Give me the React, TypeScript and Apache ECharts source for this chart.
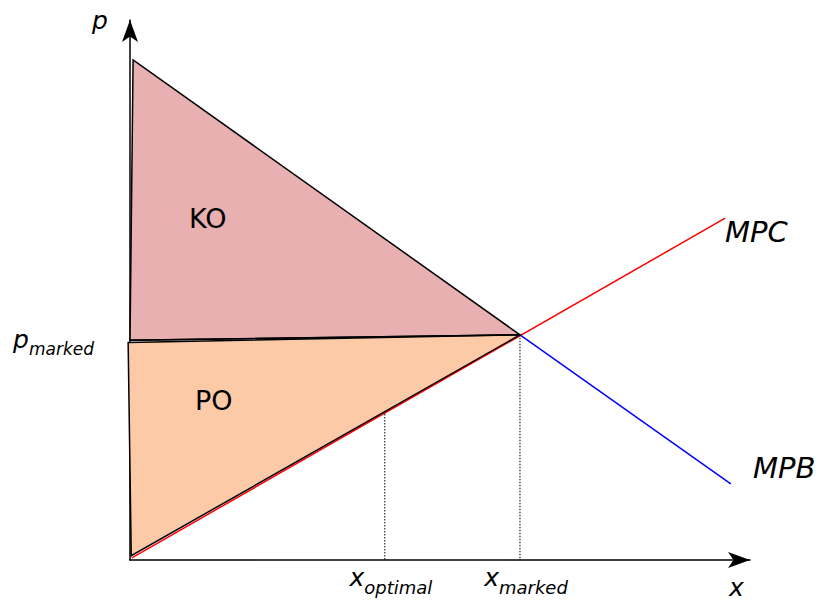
import React, { useEffect, useRef } from "react";
import * as echarts from "echarts";

// Surplus polygons (data units)
const koX = [0.05, 0, 6.29];
const koY = [9.26, 4.07, 4.17];
const poX = [-0.03, 6.29, 0.02];
const poY = [4.03, 4.17, 0.08];
// Curves
const mpcX = [0.03, 9.6];
const mpcY = [0.04, 6.33];
const mpbX = [6.29, 9.69];
const mpbY = [4.17, 1.41];
// Reference levels
const xOptimal = 4.11;
const xOptimalTop = 2.76;
const xMarked = 6.29;
const pMarked = 4.03;
const xTickValues = [xOptimal, xMarked];
const xTickNames = ["optimal", "marked"];
const yTickValues = [pMarked];
const yTickNames = ["marked"];

const FONT = "DejaVu Sans";

function polygonSeries(xs: number[], ys: number[], fill: string) {
  return {
    type: "custom",
    coordinateSystem: "cartesian2d",
    clip: false,
    silent: true,
    z: 3,
    data: [[xs[0], ys[0]]],
    renderItem: (_params: any, api: any) => {
      const pts = xs.map((x, i) => api.coord([x, ys[i]]));
      return {
        type: "polygon",
        shape: { points: pts },
        style: { fill, stroke: "#000", lineWidth: 1.5 },
      };
    },
  };
}

function lineSeries(xs: number[], ys: number[], color: string, dotted = false, width = 1.5, z = 2) {
  return {
    type: "line",
    clip: false,
    silent: true,
    symbol: "none",
    z,
    data: xs.map((x, i) => [x, ys[i]]),
    lineStyle: { color, width, type: dotted ? [1.5, 1.5] : "solid" },
  };
}

function nearestIndex(vals: number[], v: number) {
  let best = 0;
  vals.forEach((x, i) => {
    if (Math.abs(x - v) < Math.abs(vals[best] - v)) best = i;
  });
  return best;
}

export default function App() {
  const ref = useRef<HTMLDivElement>(null);
  useEffect(() => {
    if (!ref.current) return;
    const chart = echarts.init(ref.current, undefined, { renderer: "svg" });
    const subX = {
      b: { fontSize: 25, fontStyle: "italic", fontFamily: FONT, color: "#000", verticalAlign: "bottom", padding: [0, 0, 6, 12] },
      s: { fontSize: 18, fontStyle: "italic", fontFamily: FONT, color: "#000", verticalAlign: "bottom" },
    };
    const subY = {
      b: { fontSize: 25, fontStyle: "italic", fontFamily: FONT, color: "#000", verticalAlign: "bottom", padding: [0, 0, 6, 0] },
      s: { fontSize: 17, fontStyle: "italic", fontFamily: FONT, color: "#000", verticalAlign: "bottom" },
    };
    const txt = (text: string, x: number, y: number, size: number, italic: boolean) => ({
      type: "text",
      x,
      y,
      z: 100,
      style: {
        text,
        fontSize: size,
        fontStyle: italic ? "italic" : "normal",
        fontFamily: FONT,
        fill: "#000",
        verticalAlign: "middle",
      },
    });
    chart.setOption({
      animation: false,
      backgroundColor: "#fff",
      grid: { left: 130, right: 71, top: 20, bottom: 40 },
      xAxis: {
        type: "value",
        min: 0,
        max: 10,
        splitLine: { show: false },
        axisTick: { show: false },
        axisLine: {
          show: true,
          onZero: false,
          symbol: ["none", "arrow"],
          symbolSize: [12, 22],
          lineStyle: { color: "#000", width: 1.5 },
        },
        axisLabel: {
          customValues: xTickValues,
          margin: 5,
          formatter: (v: number) => `{b|x}{s|${xTickNames[nearestIndex(xTickValues, v)]}}`,
          rich: subX,
        },
      },
      yAxis: {
        type: "value",
        min: 0,
        max: 10,
        splitLine: { show: false },
        axisTick: { show: false },
        axisLine: {
          show: true,
          onZero: false,
          symbol: ["none", "arrow"],
          symbolSize: [12, 22],
          lineStyle: { color: "#000", width: 1.5 },
        },
        axisLabel: {
          customValues: yTickValues,
          margin: 36,
          formatter: (v: number) => `{b|p}{s|${yTickNames[nearestIndex(yTickValues, v)]}}`,
          rich: subY,
        },
      },
      series: [
        lineSeries(mpcX, mpcY, "#ff0000", false, 1.5, 2),
        lineSeries(mpbX, mpbY, "#0000ff", false, 1.5, 2),
        polygonSeries(koX, koY, "#e8b0b0"),
        polygonSeries(poX, poY, "#fdcaa8"),
        lineSeries([xOptimal, xOptimal], [xOptimalTop, 0], "#000", true, 1, 4),
        lineSeries([xMarked, xMarked], [koY[2], 0], "#000", true, 1, 4),
        lineSeries([koX[1], koX[2]], [koY[1], koY[2]], "#000", false, 1.5, 4),
      ],
      graphic: [
        txt("p", 92, 20, 25, true),
        txt("x", 729, 587, 25, true),
        txt("KO", 189, 218, 27, false),
        txt("PO", 195, 400, 27, false),
        txt("MPC", 725, 232, 29, true),
        txt("MPB", 753, 468, 29, true),
      ],
    });
    return () => chart.dispose();
  }, []);
  return <div ref={ref} style={{ position: "fixed", left: 0, top: 0, width: 821, height: 600 }} />;
}
